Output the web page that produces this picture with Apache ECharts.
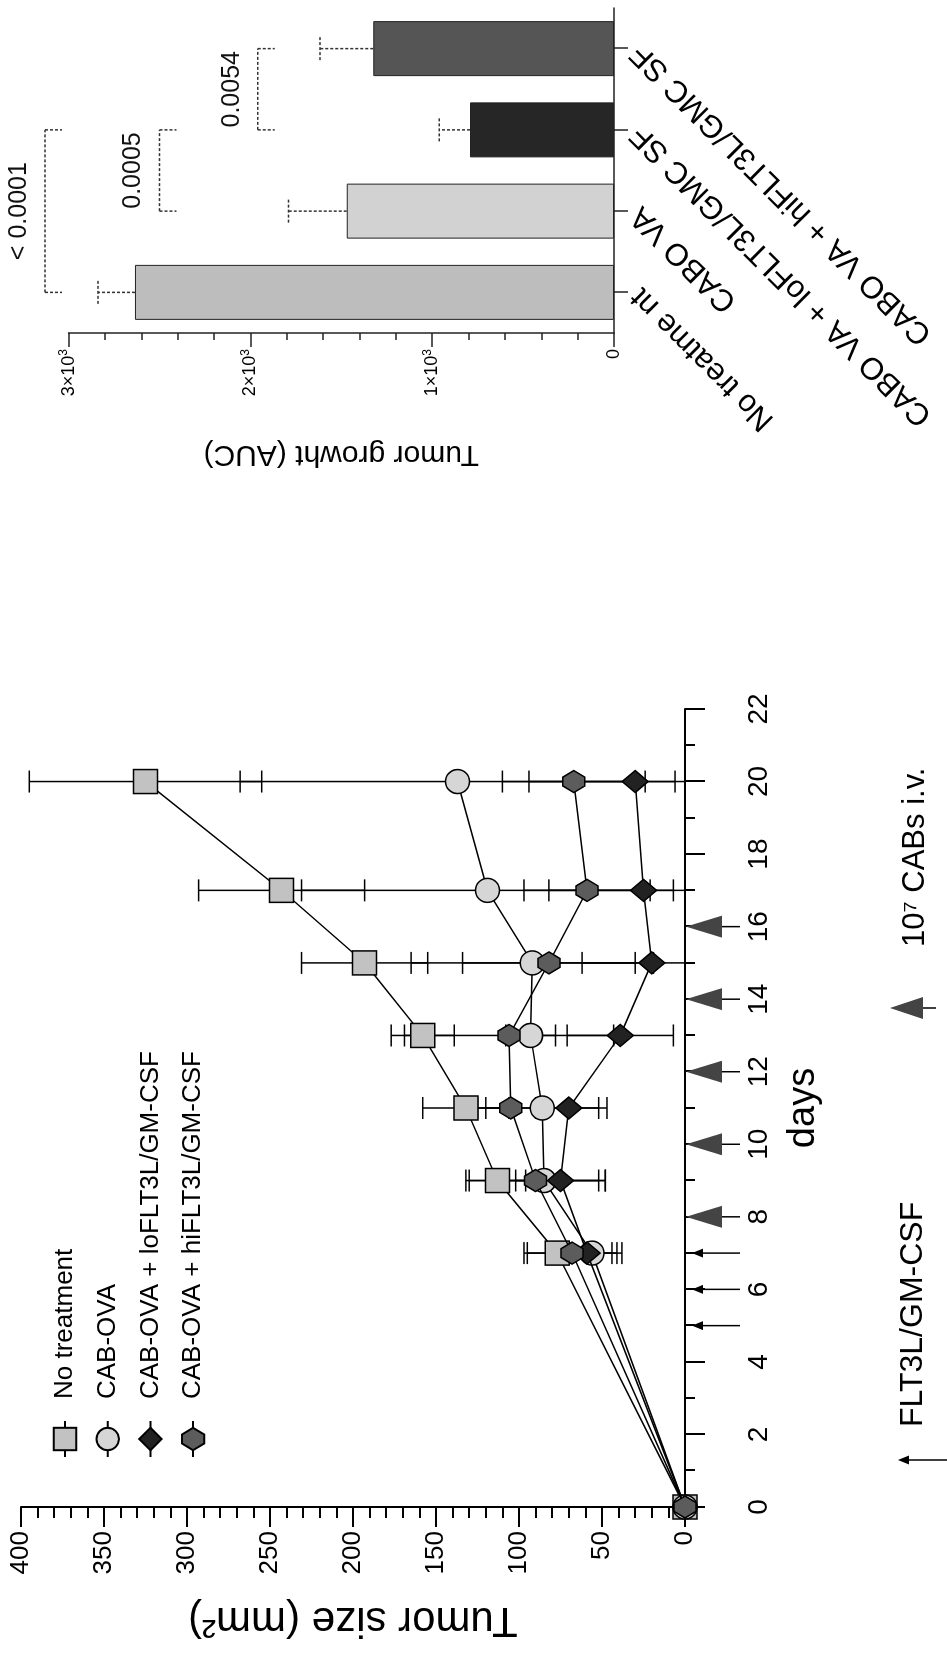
<!DOCTYPE html>
<html>
<head>
<meta charset="utf-8">
<script src="https://cdn.jsdelivr.net/npm/echarts@6/dist/echarts.min.js"></script>
<style>
html,body{margin:0;padding:0;background:#fff;width:947px;height:1655px;overflow:hidden;}
#main{position:absolute;left:0;top:0;width:1655px;height:947px;transform-origin:0 0;transform:translate(0px,1655px) rotate(-90deg);background:#fff;}
</style>
</head>
<body>
<div id="main"></div>
<script>
// ---------- line chart data ----------
const days = [0, 7, 9, 11, 13, 15, 17, 20];
const dayTicks = [0, 2, 4, 6, 8, 10, 12, 14, 16, 18, 20, 22];
const sizeTicks = [0, 50, 100, 150, 200, 250, 300, 350, 400];
const seriesNames = ['No treatment', 'CAB-OVA', 'CAB-OVA + loFLT3L/GM-CSF', 'CAB-OVA + hiFLT3L/GM-CSF'];
const noTreatment    = [0, 77, 113, 132, 158, 193, 243, 325];
const noTreatmentErr = [0, 20, 17, 26, 19, 38, 50, 70];
const cabOva         = [0, 56, 85, 86, 93, 92, 119, 137];
const cabOvaErr      = [0, 18, 33, 39, 15, 73, 112, 131];
const loFlt          = [0, 59, 75, 70, 39, 20, 25, 30];
const loFltErr       = [0, 15, 27, 18, 32, 42, 57, 64];
const hiFlt          = [0, 68, 90, 105, 106, 82, 59, 67];
const hiFltErr       = [0, 27, 42, 15, 63, 52, 38, 43];
const cabDays = [8, 10, 12, 14, 16];      // 10^7 CABs i.v.
const flt3lDays = [5, 6, 7];             // FLT3L/GM-CSF

// ---------- bar chart data ----------
const barCategories = ['No treatme nt', 'CABO VA', 'CABO VA + loFLT3L/GMC SF', 'CABO VA + hiFLT3L/GMC SF'];
const barValues = [2635, 1470, 792, 1324];
const barErrors = [203, 321, 169, 293];
const aucTicks = [0, 1000, 2000, 3000];
const sigPairs = [[0, 2], [1, 2], [2, 3]];
const sigLevels = [3130, 2500, 1960];
const sigLabels = ['< 0.0001', '0.0005', '0.0054'];

// ---------- styles ----------
const FONT = "'Liberation Sans', Arial, sans-serif";
const NARROW = "'Liberation Sans Narrow', 'Liberation Sans', Arial, sans-serif";
const fills = ['#c2c2c2', '#d6d6d6', '#222222', '#5c5c5c'];
const symbols = ['rect', 'circle', 'diamond', 'path://M3,0 L7,0 L10,5 L7,10 L3,10 L0,5 Z'];
const symbolSizes = [24, 24, [22, 26], 22];
const barFills = ['#bdbdbd', '#d2d2d2', '#262626', '#555555'];

const groups = [
  [noTreatment, noTreatmentErr],
  [cabOva, cabOvaErr],
  [loFlt, loFltErr],
  [hiFlt, hiFltErr]
];

function errItem(params, api) {
  const x = api.value(0), y = api.value(1), e = api.value(2);
  if (!e) return { type: 'group', children: [] };
  const low = Math.max(0, y - e);
  const pH = api.coord([x, y + e]);
  const pL = api.coord([x, low]);
  const cap = 11;
  const st = { stroke: '#000', lineWidth: 1.5 };
  const ch = [
    { type: 'line', shape: { x1: pH[0], y1: pH[1], x2: pL[0], y2: pL[1] }, style: st },
    { type: 'line', shape: { x1: pH[0] - cap, y1: pH[1], x2: pH[0] + cap, y2: pH[1] }, style: st }
  ];
  if (y - e > 0) ch.push({ type: 'line', shape: { x1: pL[0] - cap, y1: pL[1], x2: pL[0] + cap, y2: pL[1] }, style: st });
  return { type: 'group', children: ch };
}

const series = [];
groups.forEach((g, k) => {
  series.push({
    type: 'custom', name: seriesNames[k] + ' err', xAxisIndex: 0, yAxisIndex: 0, z: 2,
    renderItem: errItem, clip: false,
    data: days.map((d, i) => [d, g[0][i], g[1][i]])
  });
});
groups.forEach((g, k) => {
  series.push({
    type: 'line', name: seriesNames[k], xAxisIndex: 0, yAxisIndex: 0, z: 3 + k,
    data: days.map((d, i) => [d, g[0][i]]),
    symbol: symbols[k], symbolSize: symbolSizes[k],
    showAllSymbol: true,
    lineStyle: { color: '#000', width: 1.5 },
    itemStyle: { color: fills[k], borderColor: '#000', borderWidth: 1.5 }
  });
});

// treatment markers below the days axis
series.push({
  type: 'custom', xAxisIndex: 0, yAxisIndex: 0, clip: false, z: 5,
  data: cabDays.map(d => [d, 0]),
  renderItem: (p, api) => {
    const c = api.coord([api.value(0), 0]);
    return { type: 'group', children: [
      { type: 'polygon', shape: { points: [[c[0], c[1] + 1], [c[0] - 11, c[1] + 37], [c[0] + 11, c[1] + 37]] }, style: { fill: '#444' } },
      { type: 'line', shape: { x1: c[0], y1: c[1] + 37, x2: c[0], y2: c[1] + 55 }, style: { stroke: '#000', lineWidth: 1.5 } }
    ]};
  }
});
series.push({
  type: 'custom', xAxisIndex: 0, yAxisIndex: 0, clip: false, z: 5,
  data: flt3lDays.map(d => [d, 0]),
  renderItem: (p, api) => {
    const c = api.coord([api.value(0), 0]);
    return { type: 'group', children: [
      { type: 'polygon', shape: { points: [[c[0], c[1] + 7], [c[0] - 4.5, c[1] + 18], [c[0] + 4.5, c[1] + 18]] }, style: { fill: '#000' } },
      { type: 'line', shape: { x1: c[0], y1: c[1] + 14, x2: c[0], y2: c[1] + 55 }, style: { stroke: '#000', lineWidth: 1.5 } }
    ]};
  }
});

// bar chart
series.push({
  type: 'bar', xAxisIndex: 1, yAxisIndex: 1, barWidth: 55,
  data: barValues.map((v, i) => ({ value: v, itemStyle: { color: barFills[i] } })),
  itemStyle: { borderColor: '#222', borderWidth: 1 }
});
series.push({
  type: 'custom', xAxisIndex: 1, yAxisIndex: 1, clip: false, z: 4,
  data: barValues.map((v, i) => [i, v, barErrors[i]]),
  renderItem: (p, api) => {
    const i = api.value(0), v = api.value(1), e = api.value(2);
    const a = api.coord([i, v]), b = api.coord([i, v + e]);
    const st = { stroke: '#333', lineWidth: 1.5, lineDash: [3, 2] };
    return { type: 'group', children: [
      { type: 'line', shape: { x1: a[0], y1: a[1], x2: b[0], y2: b[1] }, style: st },
      { type: 'line', shape: { x1: b[0] - 11.5, y1: b[1], x2: b[0] + 11.5, y2: b[1] }, style: st }
    ]};
  }
});
series.push({
  type: 'custom', xAxisIndex: 1, yAxisIndex: 1, clip: false, z: 4,
  data: sigPairs.map((pr, k) => [pr[0], pr[1], sigLevels[k], k]),
  renderItem: (p, api) => {
    const a = api.coord([api.value(0), api.value(2)]);
    const b = api.coord([api.value(1), api.value(2)]);
    const k = api.value(3);
    const st = { stroke: '#333', lineWidth: 1.5, lineDash: [3, 2] };
    return { type: 'group', children: [
      { type: 'line', shape: { x1: a[0], y1: a[1], x2: b[0], y2: b[1] }, style: st },
      { type: 'line', shape: { x1: a[0], y1: a[1], x2: a[0], y2: a[1] + 17 }, style: st },
      { type: 'line', shape: { x1: b[0], y1: b[1], x2: b[0], y2: b[1] + 17 }, style: st },
      { type: 'text', style: { text: sigLabels[k], x: (a[0] + b[0]) / 2, y: a[1] - 26, align: 'center', verticalAlign: 'middle', fontSize: 25, fontFamily: FONT, fill: '#111' } }
    ]};
  }
});

const axisLineBlack = { show: true, lineStyle: { color: '#000', width: 2 } };

const option = {
  animation: false,
  backgroundColor: '#fff',
  textStyle: { fontFamily: FONT, color: '#000' },
  legend: {
    data: seriesNames,
    orient: 'vertical',
    left: 192, top: 46,
    itemWidth: 36, itemHeight: 28, itemGap: 14.7,
    textStyle: { fontSize: 26, fontFamily: FONT, color: '#000', lineHeight: 28, padding: [0, 0, 0, 17] },
    selectedMode: false
  },
  grid: [
    { left: 148, top: 21, width: 798, height: 664 },
    { left: 1322, top: 68.6, width: 325, height: 545.4 }
  ],
  xAxis: [
    {
      type: 'value', gridIndex: 0, min: dayTicks[0], max: dayTicks[dayTicks.length - 1], interval: 2,
      axisLine: axisLineBlack,
      axisTick: { show: true, length: 20, lineStyle: { color: '#000', width: 2 } },
      minorTick: { show: true, splitNumber: 2, length: 10, lineStyle: { color: '#000', width: 2 } },
      splitLine: { show: false },
      axisLabel: { margin: 60, fontSize: 28, fontFamily: NARROW, color: '#000' },
      name: 'days', nameLocation: 'middle', nameGap: 100,
      nameTextStyle: { fontSize: 38, fontFamily: FONT, color: '#000' }
    },
    {
      type: 'category', gridIndex: 1, data: barCategories,
      axisLine: { show: true, lineStyle: { color: '#222', width: 1.5 } },
      axisTick: { show: true, alignWithLabel: true, length: 14, lineStyle: { color: '#222', width: 1.5 } },
      axisLabel: { rotate: 45, margin: 22, fontSize: 31, fontFamily: FONT, color: '#000', interval: 0 },
      splitLine: { show: false }
    }
  ],
  yAxis: [
    {
      type: 'value', gridIndex: 0, min: sizeTicks[0], max: sizeTicks[sizeTicks.length - 1], interval: 50,
      axisLine: axisLineBlack,
      axisTick: { show: true, length: 20, lineStyle: { color: '#000', width: 2 } },
      minorTick: { show: true, splitNumber: 5, length: 11, lineStyle: { color: '#000', width: 2 } },
      splitLine: { show: false },
      axisLabel: { margin: 24, fontSize: 26, fontFamily: FONT, color: '#000' },
      name: 'Tumor size (mm²)', nameLocation: 'middle', nameGap: 92,
      nameTextStyle: { fontSize: 42, fontFamily: FONT, color: '#000' }
    },
    {
      type: 'value', gridIndex: 1, min: aucTicks[0], max: aucTicks[aucTicks.length - 1], interval: 1000,
      axisLine: { show: true, lineStyle: { color: '#222', width: 1.5 } },
      axisTick: { show: true, length: 14, lineStyle: { color: '#222', width: 1.5 } },
      minorTick: { show: true, splitNumber: 5, length: 7, lineStyle: { color: '#222', width: 1.5 } },
      splitLine: { show: false },
      axisLabel: {
        margin: 16, fontSize: 18, fontFamily: FONT, color: '#000',
        formatter: v => v === 0 ? '0' : (v / 1000) + '×10{s|3}',
        rich: { s: { fontSize: 12, fontFamily: FONT, padding: [0, 0, 9, 0] } }
      },
      name: 'Tumor growht (AUC)', nameLocation: 'middle', nameGap: 106,
      nameTextStyle: { fontSize: 30, fontFamily: FONT, color: '#000' }
    }
  ],
  graphic: [
    { type: 'line', shape: { x1: 195, y1: 905, x2: 195, y2: 947 }, style: { stroke: '#000', lineWidth: 1.5 } },
    { type: 'polygon', shape: { points: [[195, 898], [190.5, 909], [199.5, 909]] }, style: { fill: '#000' } },
    { type: 'text', left: 228, top: 897, style: { text: 'FLT3L/GM-CSF', fontSize: 32, fontFamily: FONT, fill: '#000' } },
    { type: 'polygon', shape: { points: [[647, 890], [636, 923], [658, 923]] }, style: { fill: '#444' } },
    { type: 'line', shape: { x1: 647, y1: 923, x2: 647, y2: 936 }, style: { stroke: '#000', lineWidth: 1.5 } },
    { type: 'text', left: 708, top: 900, style: { text: '10⁷ CABs i.v.', fontSize: 31, fontFamily: FONT, fill: '#000' } }
  ],
  series: series
};

const chart = echarts.init(document.getElementById('main'), null, { renderer: 'canvas' });
chart.setOption(option);
</script>
</body>
</html>
